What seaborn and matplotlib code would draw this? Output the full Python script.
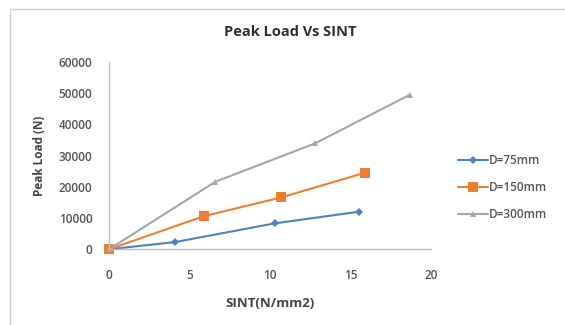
import matplotlib
matplotlib.use("Agg")
import matplotlib.pyplot as plt
import seaborn as sns
import pandas as pd
from matplotlib.patches import Rectangle

# Peak load measured against SINT for three specimen diameters
series = ["D=75mm", "D=150mm", "D=300mm"]
sint_75 = [0.0, 4.1, 10.3, 15.5]
load_75 = [0, 2300, 8300, 12000]
sint_150 = [0.0, 5.9, 10.7, 15.9]
load_150 = [0, 10600, 16600, 24500]
sint_300 = [0.0, 6.6, 12.8, 18.7]
load_300 = [0, 21600, 33900, 49500]

xticks = [0, 5, 10, 15, 20]
yticks = [0, 10000, 20000, 30000, 40000, 50000, 60000]

frames = []
for name, xs, ys in [(series[0], sint_75, load_75),
                     (series[1], sint_150, load_150),
                     (series[2], sint_300, load_300)]:
    frames.append(pd.DataFrame({"SINT": xs, "Load": ys, "Series": name}))
df = pd.concat(frames, ignore_index=True)

sns.set_theme(style="white")
plt.rcParams["font.family"] = ["Open Sans", "DejaVu Sans"]

palette = {"D=75mm": "#4F81BD", "D=150mm": "#ED7D31", "D=300mm": "#A5A5A5"}
markers = {"D=75mm": "D", "D=150mm": "s", "D=300mm": "^"}
sizes = {"D=75mm": 4, "D=150mm": 6.5, "D=300mm": 5}
text_col = "#555555"

fig = plt.figure(figsize=(5.65, 3.25), dpi=100)
ax = fig.add_axes([0.193, 0.233, 0.570, 0.577])

for name in series:
    sub = df[df["Series"] == name]
    sns.lineplot(data=sub, x="SINT", y="Load", ax=ax, color=palette[name],
                 marker=markers[name], markersize=sizes[name],
                 markeredgewidth=0, linewidth=1.5, sort=False,
                 label=name)

ax.set_xlim(0, 20)
ax.set_ylim(0, 60000)
ax.set_xticks(xticks)
ax.set_yticks(yticks)
ax.set_xticklabels([str(t) for t in xticks])
ax.set_yticklabels([str(t) for t in yticks])
ax.tick_params(axis="x", length=0, labelsize=8.5, colors=text_col, pad=14)
ax.tick_params(axis="y", length=0, labelsize=8.5, colors=text_col, pad=12)
for lab in ax.get_xticklabels() + ax.get_yticklabels():
    lab.set_fontweight("semibold")

for side in ["top", "right"]:
    ax.spines[side].set_visible(False)
for side in ["left", "bottom"]:
    ax.spines[side].set_color("#BFBFBF")
    ax.spines[side].set_linewidth(1.0)
for line in ax.lines:
    line.set_clip_on(False)

ax.set_xlabel("SINT(N/mm2)", fontsize=9.5, fontweight="bold", color="#444444", labelpad=11)
ax.set_ylabel("Peak Load (N)", fontsize=8.5, fontweight="bold", color="#444444", labelpad=9)

fig.text(0.513, 0.902, "Peak Load Vs SINT", ha="center", va="center",
         fontsize=10.5, fontweight="bold", color="#2F2F2F")

leg = ax.legend(loc="center left", bbox_to_anchor=(1.07, 0.33), frameon=False,
                fontsize=8.5, handlelength=2.55, handletextpad=0.0,
                labelspacing=1.2, borderaxespad=0)
for t in leg.get_texts():
    t.set_color(text_col)
    t.set_fontweight("semibold")

# chart area border
fig.patches.append(Rectangle((0.018, -0.05), 1.05, 1.022, transform=fig.transFigure,
                             fill=False, edgecolor="#D0D0D0", linewidth=1.0))

fig.savefig("out.png", dpi=100)
